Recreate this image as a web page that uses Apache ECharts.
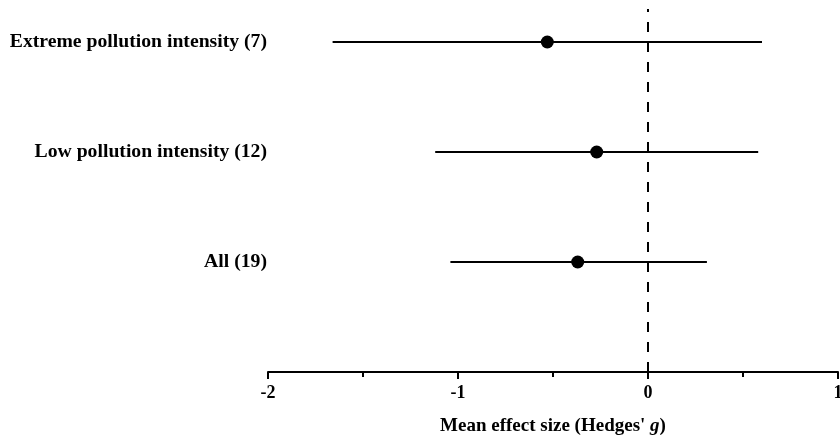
<!DOCTYPE html>
<html>
<head>
<meta charset="utf-8">
<script src="https://cdn.jsdelivr.net/npm/echarts@6/dist/echarts.min.js"></script>
<style>
  html, body { margin: 0; padding: 0; background: #fff; }
  #chart { width: 840px; height: 437px; }
</style>
</head>
<body>
<div id="chart"></div>
<script>
// 分组（从下到上）
const groups = ['All (19)', 'Low pollution intensity (12)', 'Extreme pollution intensity (7)']
const rowPos = [1, 2, 3]
const means = [-0.37, -0.27, -0.53]
const lower = [-1.04, -1.12, -1.66]
const upper = [0.31, 0.58, 0.60]

const serif = '"Liberation Serif", "DejaVu Serif", serif'

const chart = echarts.init(document.getElementById('chart'))

const option = {
  animation: false,
  grid: { left: 268, right: 2, top: 9, bottom: 65, outerBoundsMode: 'none' },
  xAxis: {
    type: 'value',
    min: -2,
    max: 1,
    interval: 1,
    name: "Mean effect size (Hedges' {i|g})",
    nameLocation: 'middle',
    nameGap: 45,
    nameTextStyle: {
      fontFamily: serif, fontSize: 19, fontWeight: 'bold', color: '#000',
      rich: { i: { fontFamily: serif, fontSize: 19, fontWeight: 'bold', fontStyle: 'italic', color: '#000' } }
    },
    axisLine: { lineStyle: { color: '#000', width: 2 } },
    axisTick: { length: 7, lineStyle: { color: '#000', width: 2 } },
    minorTick: { show: true, splitNumber: 2, length: 5, lineStyle: { color: '#000', width: 2 } },
    axisLabel: { fontFamily: serif, fontSize: 18, fontWeight: 'bold', color: '#000', margin: 12 },
    splitLine: { show: false }
  },
  yAxis: {
    type: 'value',
    min: 0,
    max: 3.3,
    interval: 1,
    axisLine: { show: false },
    axisTick: { show: false },
    splitLine: { show: false },
    axisLabel: {
      fontFamily: serif, fontSize: 19.7, fontWeight: 'bold', color: '#000', margin: 1,
      formatter: (v) => {
        const i = rowPos.indexOf(v)
        return i > -1 ? groups[i] : ''
      }
    }
  },
  series: [
    {
      // 置信区间
      type: 'custom',
      data: rowPos.map((y, i) => [lower[i], upper[i], y]),
      renderItem: (params, api) => {
        const a = api.coord([api.value(0), api.value(2)])
        const b = api.coord([api.value(1), api.value(2)])
        return {
          type: 'line',
          shape: { x1: a[0], y1: a[1], x2: b[0], y2: b[1] },
          style: { stroke: '#000', lineWidth: 2 }
        }
      },
      markLine: {
        silent: true,
        symbol: 'none',
        label: { show: false },
        lineStyle: { color: '#000', width: 2, type: [10, 10] },
        data: [{ xAxis: 0 }]
      },
      z: 2
    },
    {
      type: 'scatter',
      data: rowPos.map((y, i) => [means[i], y]),
      symbol: 'circle',
      symbolSize: 13,
      itemStyle: { color: '#000', opacity: 1 },
      z: 3
    }
  ]
}

chart.setOption(option)
</script>
</body>
</html>
